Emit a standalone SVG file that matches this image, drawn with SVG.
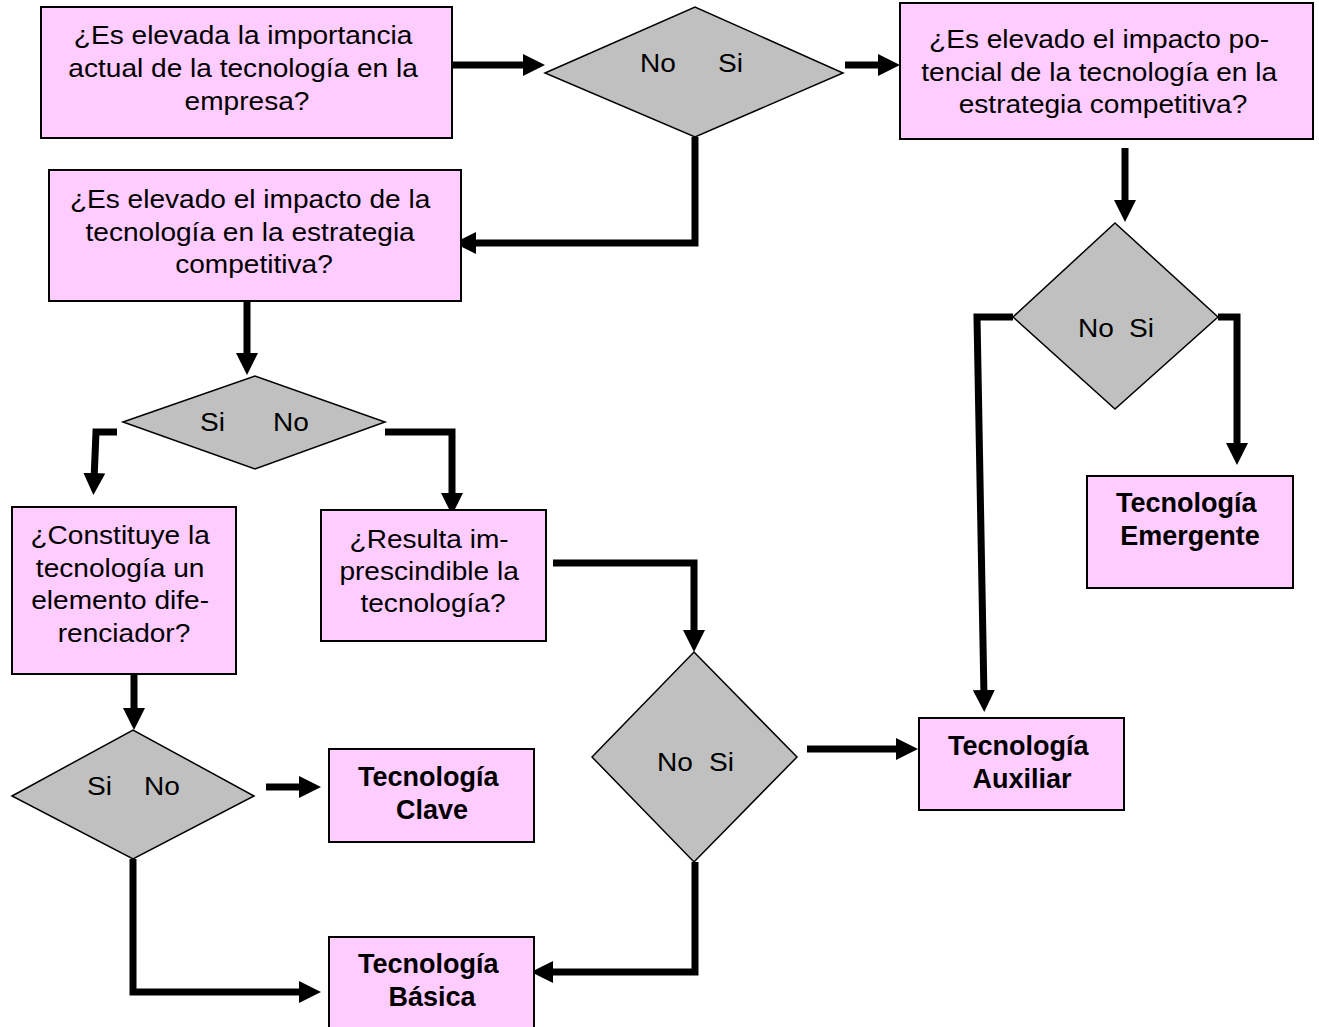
<svg xmlns="http://www.w3.org/2000/svg" width="1319" height="1027" viewBox="0 0 1319 1027">
  <style>
    .box { fill: #ffccff; stroke: #000; stroke-width: 2; }
    .dia { fill: #c0c0c0; stroke: #000; stroke-width: 1.5; }
    .t { font-family: "Liberation Sans", Arial, sans-serif; font-size: 26px; fill: #000; }
    .b { font-family: "Liberation Sans", Arial, sans-serif; font-size: 27px; font-weight: bold; fill: #000; }
    .c { fill: none; stroke: #000; stroke-width: 7; stroke-linejoin: miter; marker-end: url(#head); }
  </style>
  <defs>
    <marker id="head" markerUnits="userSpaceOnUse" markerWidth="22" markerHeight="22" refX="7" refY="11" orient="auto">
      <path d="M0,0 L22,11 L0,22 Z" fill="#000"/>
    </marker>
  </defs>
  <rect width="1319" height="1027" fill="#fff"/>

  <!-- connectors -->
  <g id="connectors">
    <path class="c" d="M452,65 H530"/>
    <path class="c" d="M845,65 H885"/>
    <path class="c" d="M695,137 V243 H469"/>
    <path class="c" d="M247,301 V360"/>
    <path class="c" d="M117,432 H96 L94,480"/>
    <path class="c" d="M385,432 H452 V500"/>
    <path class="c" d="M134,674 V715"/>
    <path class="c" d="M266,787 H306"/>
    <path class="c" d="M133,859 V992 H306"/>
    <path class="c" d="M553,563 H694 V637"/>
    <path class="c" d="M807,749 H903"/>
    <path class="c" d="M695,862 V972 H546"/>
    <path class="c" d="M1125,148 V207"/>
    <path class="c" d="M1013,317 H977 L984,697"/>
    <path class="c" d="M1218,317 H1237 V450"/>
  </g>

  <!-- question: current importance -->
  <g id="q-importancia">
    <rect class="box" x="41" y="7" width="411" height="131"/>
    <text class="t" text-anchor="middle" transform="translate(247 0) scale(1.08 1)">
      <tspan x="0" y="44">¿Es elevada la importancia</tspan>
      <tspan x="0" y="77">actual de la tecnología en la</tspan>
      <tspan x="0" y="110">empresa?</tspan>
    </text>
  </g>

  <!-- decision 1 -->
  <g id="d-importancia">
    <polygon class="dia" points="545,73 695,7 843,73 695,137"/>
    <text class="t" transform="translate(640 0) scale(1.08 1)" x="0" y="72">No</text>
    <text class="t" transform="translate(718 0) scale(1.08 1)" x="0" y="72">Si</text>
  </g>

  <!-- question: potential impact -->
  <g id="q-potencial">
    <rect class="box" x="900" y="3" width="413" height="136"/>
    <text class="t" text-anchor="middle" transform="translate(1103 0) scale(1.08 1)">
      <tspan x="0" y="48">¿Es elevado el impacto po-</tspan>
      <tspan x="0" y="81">tencial de la tecnología en la</tspan>
      <tspan x="0" y="113">estrategia competitiva?</tspan>
    </text>
  </g>

  <!-- question: impact on strategy -->
  <g id="q-impacto">
    <rect class="box" x="49" y="170" width="412" height="131"/>
    <text class="t" text-anchor="middle" transform="translate(254 0) scale(1.08 1)">
      <tspan x="0" y="208">¿Es elevado el impacto de la</tspan>
      <tspan x="0" y="241">tecnología en la estrategia</tspan>
      <tspan x="0" y="273">competitiva?</tspan>
    </text>
  </g>

  <!-- decision 2 -->
  <g id="d-impacto">
    <polygon class="dia" points="123,422 255,376 385,422 255,469"/>
    <text class="t" transform="translate(200 0) scale(1.08 1)" x="0" y="431">Si</text>
    <text class="t" transform="translate(273 0) scale(1.08 1)" x="0" y="431">No</text>
  </g>

  <!-- decision 4 (potential impact) -->
  <g id="d-potencial">
    <polygon class="dia" points="1013,317 1115,223 1218,317 1115,409"/>
    <text class="t" transform="translate(1078 0) scale(1.08 1)" x="0" y="337">No</text>
    <text class="t" transform="translate(1129 0) scale(1.08 1)" x="0" y="337">Si</text>
  </g>

  <!-- result: emerging -->
  <g id="r-emergente">
    <rect class="box" x="1087" y="476" width="206" height="112"/>
    <text class="b" text-anchor="middle">
      <tspan x="1190" y="512">Tecnología</tspan>
      <tspan x="1190" y="545">Emergente</tspan>
    </text>
  </g>

  <!-- question: differentiating element -->
  <g id="q-diferenciador">
    <rect class="box" x="12" y="507" width="224" height="167"/>
    <text class="t" text-anchor="middle" transform="translate(124 0) scale(1.08 1)">
      <tspan x="0" y="544">¿Constituye la</tspan>
      <tspan x="0" y="577">tecnología un</tspan>
      <tspan x="0" y="609">elemento dife-</tspan>
      <tspan x="0" y="642">renciador?</tspan>
    </text>
  </g>

  <!-- question: indispensable -->
  <g id="q-imprescindible">
    <rect class="box" x="321" y="510" width="225" height="131"/>
    <text class="t" text-anchor="middle" transform="translate(433 0) scale(1.08 1)">
      <tspan x="0" y="548">¿Resulta im-</tspan>
      <tspan x="0" y="580">prescindible la</tspan>
      <tspan x="0" y="612">tecnología?</tspan>
    </text>
  </g>

  <!-- decision 3 -->
  <g id="d-diferenciador">
    <polygon class="dia" points="12,796 133,730 254,796 133,859"/>
    <text class="t" transform="translate(87 0) scale(1.08 1)" x="0" y="795">Si</text>
    <text class="t" transform="translate(144 0) scale(1.08 1)" x="0" y="795">No</text>
  </g>

  <!-- decision 5 -->
  <g id="d-imprescindible">
    <polygon class="dia" points="592,757 694,652 797,757 694,862"/>
    <text class="t" transform="translate(657 0) scale(1.08 1)" x="0" y="771">No</text>
    <text class="t" transform="translate(709 0) scale(1.08 1)" x="0" y="771">Si</text>
  </g>

  <!-- result: key -->
  <g id="r-clave">
    <rect class="box" x="329" y="749" width="205" height="93"/>
    <text class="b" text-anchor="middle">
      <tspan x="432" y="786">Tecnología</tspan>
      <tspan x="432" y="819">Clave</tspan>
    </text>
  </g>

  <!-- result: auxiliary -->
  <g id="r-auxiliar">
    <rect class="box" x="919" y="718" width="205" height="92"/>
    <text class="b" text-anchor="middle">
      <tspan x="1022" y="755">Tecnología</tspan>
      <tspan x="1022" y="788">Auxiliar</tspan>
    </text>
  </g>

  <!-- result: basic -->
  <g id="r-basica">
    <rect class="box" x="329" y="937" width="205" height="96"/>
    <text class="b" text-anchor="middle">
      <tspan x="432" y="973">Tecnología</tspan>
      <tspan x="432" y="1006">Básica</tspan>
    </text>
  </g>
</svg>
